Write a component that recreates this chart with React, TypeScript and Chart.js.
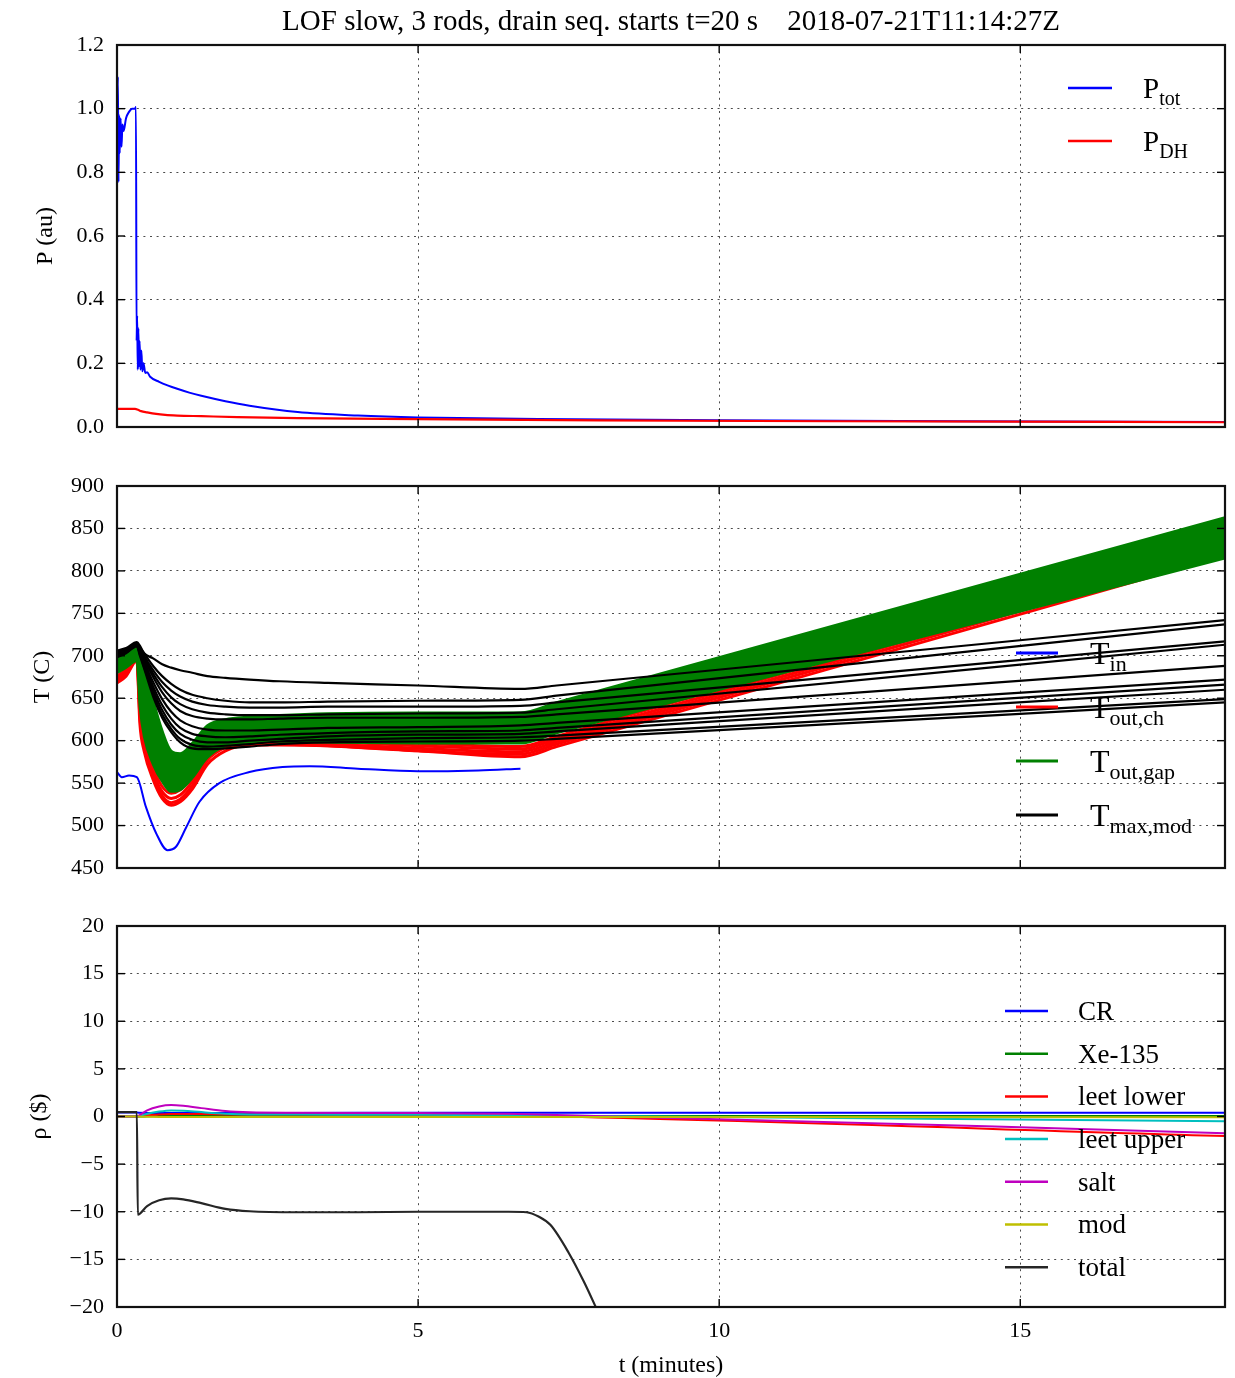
import React, { useEffect, useRef } from "react";
import { Chart, registerables } from "chart.js";

Chart.register(...registerables);

const FONT = "'Liberation Serif', 'Times New Roman', serif";
const TITLE = "LOF slow, 3 rods, drain seq. starts t=20 s    2018-07-21T11:14:27Z";

// ---------- axes ----------
const xTickValues = [0, 5, 10, 15];
const xMax = 18.4;
const pTickValues = [0, 0.2, 0.4, 0.6, 0.8, 1.0, 1.2];
const tTickValues = [450, 500, 550, 600, 650, 700, 750, 800, 850, 900];
const rhoTickValues = [-20, -15, -10, -5, 0, 5, 10, 15, 20];

// ---------- panel 1: power ----------
const tPtot = [0, 0.015, 0.025, 0.035, 0.045, 0.06, 0.075, 0.09, 0.11, 0.15, 0.2, 0.25, 0.3, 0.315, 0.325, 0.335, 0.345, 0.355, 0.365, 0.375, 0.39, 0.405, 0.42, 0.44, 0.47, 0.5, 0.55, 0.7, 0.85, 1.0, 1.2, 1.4, 1.8, 2.2, 3.0, 4.0, 5.0, 7.0, 10, 14, 18.4];
const pTot = [0.95, 1.1, 0.77, 0.98, 0.86, 0.97, 0.88, 0.95, 0.93, 0.97, 0.99, 1.0, 1.0, 1.005, 0.27, 0.35, 0.18, 0.31, 0.19, 0.27, 0.18, 0.24, 0.175, 0.2, 0.17, 0.172, 0.158, 0.142, 0.13, 0.12, 0.108, 0.098, 0.081, 0.067, 0.047, 0.036, 0.03, 0.025, 0.021, 0.018, 0.016];
const tPdh = [0, 0.3, 0.35, 0.4, 0.5, 0.65, 0.8, 1.0, 1.4, 2.0, 3.0, 5.0, 8.0, 12, 18.4];
const pDH = [0.057, 0.057, 0.054, 0.05, 0.046, 0.041, 0.038, 0.036, 0.034, 0.031, 0.028, 0.025, 0.021, 0.018, 0.015];

// ---------- panel 2: temperatures ----------
const tIn = [0, 0.08, 0.2, 0.33, 0.48, 0.65, 0.84, 0.98, 1.15, 1.37, 1.7, 2.2, 2.75, 3.2, 4, 5, 6, 6.7];
const TIn = [563, 557, 559, 557, 522, 491, 471, 475, 498, 528, 550, 563, 569, 570, 567, 564, 565, 567];

const tOut = [0, 0.15, 0.33, 0.38, 0.45, 0.6, 0.75, 0.9, 1.05, 1.25, 1.5, 1.8, 2.2, 2.7, 3.5, 5, 6.7, 7.3, 18.4];
const TOutCh = [
  [676, 684, 702, 650, 612, 575, 553, 545, 549, 564, 592, 604, 606, 605, 602, 597, 593, 605, 835],
  [674, 682, 700, 643, 606, 568, 546, 538, 542, 558, 587, 600, 603, 602, 599, 594, 590, 602, 830],
  [672, 680, 698, 636, 600, 562, 540, 532, 536, 552, 582, 596, 600, 599, 596, 591, 587, 599, 826],
  [670, 678, 696, 628, 594, 558, 535, 527, 531, 547, 577, 592, 597, 596, 594, 588, 584, 596, 822],
  [668, 676, 694, 620, 588, 554, 532, 524, 528, 543, 572, 588, 595, 595, 594, 588, 581, 593, 818],
];
const TOutGap = [
  [698, 703, 709, 704, 690, 648, 612, 588, 585, 597, 618, 625, 628, 630, 632, 633, 633, 645, 863],
  [697, 702, 708, 700, 683, 641, 606, 583, 580, 593, 614, 622, 625, 627, 629, 629, 629, 641, 858],
  [695, 700, 707, 695, 675, 634, 600, 578, 575, 589, 610, 619, 622, 624, 626, 626, 626, 638, 852],
  [693, 698, 705, 690, 666, 627, 594, 573, 570, 585, 606, 615, 619, 621, 622, 622, 622, 634, 848],
  [691, 696, 704, 684, 656, 620, 588, 568, 565, 580, 602, 612, 616, 618, 619, 618, 618, 630, 843],
  [689, 694, 702, 677, 646, 612, 582, 563, 560, 576, 598, 609, 613, 614, 615, 614, 614, 626, 838],
  [687, 692, 700, 670, 636, 603, 576, 558, 556, 572, 594, 605, 609, 610, 611, 610, 610, 622, 833],
  [685, 690, 698, 662, 626, 594, 569, 552, 551, 567, 590, 601, 605, 606, 606, 605, 605, 617, 828],
  [683, 688, 696, 652, 615, 584, 562, 546, 547, 562, 585, 598, 601, 602, 602, 601, 601, 613, 822],
  [680, 686, 694, 640, 605, 572, 552, 540, 542, 556, 580, 594, 598, 599, 598, 597, 597, 609, 815],
];
const TMaxMod = [
  [706, 709, 716, 712, 703, 697, 690, 686, 683, 680, 676, 674, 672, 670, 668, 665, 661, 665, 742],
  [704, 708, 715, 710, 703, 688, 676, 667, 660, 654, 650, 647, 645, 645, 646, 647, 648, 653, 737],
  [703, 707, 715, 709, 700, 683, 669, 659, 652, 646, 642, 640, 639, 639, 640, 640, 641, 645, 717],
  [702, 706, 714, 708, 698, 679, 663, 651, 643, 637, 633, 631, 630, 630, 631, 632, 633, 637, 713],
  [702, 706, 714, 707, 696, 675, 657, 644, 635, 629, 626, 625, 625, 626, 627, 627, 628, 631, 688],
  [701, 705, 713, 705, 693, 669, 649, 634, 624, 617, 613, 612, 612, 613, 615, 616, 618, 621, 672],
  [700, 705, 713, 704, 691, 664, 642, 626, 615, 608, 605, 604, 605, 607, 609, 611, 612, 615, 666],
  [700, 704, 712, 703, 689, 660, 636, 619, 608, 601, 598, 598, 600, 602, 605, 607, 608, 611, 660],
  [699, 704, 712, 702, 687, 656, 631, 614, 602, 595, 593, 594, 596, 599, 601, 603, 604, 606, 649],
  [698, 703, 711, 700, 685, 652, 627, 610, 598, 591, 590, 591, 593, 596, 598, 599, 600, 602, 645],
];

// ---------- panel 3: reactivity ----------
const tRho = [0, 0.3, 0.36, 0.5, 0.7, 0.9, 1.1, 1.4, 1.8, 2.2, 3, 5, 6.5, 18.4];
const rhoCR = [0.42, 0.42, 0.4, 0.38, 0.37, 0.37, 0.37, 0.38, 0.38, 0.38, 0.38, 0.39, 0.39, 0.4];
const rhoXe = [0, 0, 0, 0.02, 0.04, 0.06, 0.07, 0.07, 0.07, 0.06, 0.06, 0.05, 0.05, 0.04];
const rhoLeetLower = [0, 0, 0.02, 0.12, 0.2, 0.25, 0.26, 0.25, 0.22, 0.2, 0.2, 0.17, 0.1, -2.05];
const rhoLeetUpper = [0, 0, 0.04, 0.28, 0.52, 0.64, 0.6, 0.46, 0.3, 0.22, 0.2, 0.18, 0.12, -0.5];
const rhoSalt = [0, 0, 0.1, 0.65, 1.05, 1.2, 1.12, 0.88, 0.58, 0.45, 0.4, 0.36, 0.28, -1.75];
const rhoMod = [0, 0, -0.01, -0.02, -0.04, -0.05, -0.06, -0.06, -0.06, -0.06, -0.06, -0.06, -0.06, -0.07];
const tTotal = [0, 0.3, 0.33, 0.345, 0.5, 0.7, 0.9, 1.1, 1.4, 1.8, 2.2, 3, 4, 5, 6, 6.5, 6.8, 7.0, 7.2, 7.5, 7.75, 7.95, 8.2];
const rhoTotal = [0.45, 0.45, 0.45, -10.3, -9.4, -8.8, -8.6, -8.7, -9.1, -9.7, -9.95, -10.05, -10.05, -10.0, -10.0, -10.0, -10.05, -10.5, -11.4, -14.3, -17.3, -20, -23.5];

// ---------- colours ----------
const BLUE = "#0000ff";
const RED = "#ff0000";
const GREEN = "#008000";
const BLACK = "#000000";
const CYAN = "#00bfbf";
const MAGENTA = "#bf00bf";
const YELLOW = "#bfbf00";
const TOTAL = "#262626";

const W = 1235;
const H = 1378;
const PLOT_LEFT = 117;
const PLOT_RIGHT = 1225;

const pts = (xs: number[], ys: number[]) => xs.map((x, i) => ({ x, y: ys[i] }));

function lineDs(label: string, xs: number[], ys: number[], color: string, width: number, order: number, extra: any = {}) {
  return {
    label,
    data: pts(xs, ys),
    borderColor: color,
    backgroundColor: color,
    borderWidth: width,
    pointRadius: 0,
    pointHoverRadius: 0,
    fill: false,
    cubicInterpolationMode: "monotone",
    order,
    clip: 0,
    ...extra,
  };
}

const decorPlugin = {
  id: "decor",
  afterDatasetsDraw(chart: any, _args: any, opts: any) {
    const { ctx, chartArea: a, scales } = chart;
    ctx.save();
    ctx.setLineDash([]);
    ctx.strokeStyle = "#000";
    ctx.lineWidth = 1.4;
    const seg = (x1: number, y1: number, x2: number, y2: number) => {
      ctx.beginPath();
      ctx.moveTo(x1, y1);
      ctx.lineTo(x2, y2);
      ctx.stroke();
    };
    const TL = 8;
    for (const v of xTickValues) {
      const px = scales.x.getPixelForValue(v);
      seg(px, a.bottom, px, a.bottom - TL);
      seg(px, a.top, px, a.top + TL);
    }
    for (const t of scales.y.ticks) {
      const py = scales.y.getPixelForValue(t.value);
      seg(a.left, py, a.left + TL, py);
      seg(a.right, py, a.right - TL, py);
    }
    ctx.lineWidth = 2.2;
    ctx.strokeStyle = "#111";
    ctx.strokeRect(a.left, a.top, a.right - a.left, a.bottom - a.top);

    if (opts.title) {
      ctx.fillStyle = "#000";
      ctx.font = `29px ${FONT}`;
      ctx.textAlign = "center";
      ctx.textBaseline = "middle";
      ctx.fillText(opts.title, (a.left + a.right) / 2, 22);
    }

    const L = opts.legend;
    if (L) {
      L.items.forEach((it: any, i: number) => {
        const y = a.top + L.y0 + i * L.dy;
        ctx.strokeStyle = it.color;
        ctx.lineWidth = L.lineWidth;
        seg(a.right - L.lineX, y, a.right - L.lineX + L.lineLen, y);
        ctx.fillStyle = "#000";
        ctx.textAlign = "left";
        ctx.textBaseline = "alphabetic";
        ctx.font = `${L.size}px ${FONT}`;
        const base = y + L.size * 0.33;
        const tx = a.right - L.textX;
        ctx.fillText(it.label, tx, base);
        if (it.sub) {
          const w = ctx.measureText(it.label).width;
          ctx.font = `${L.subSize}px ${FONT}`;
          ctx.fillText(it.sub, tx + w, base + L.subSize * 0.35);
        }
      });
    }
    ctx.restore();
  },
};

const gridOpts = { color: "rgba(0,0,0,0.7)", lineWidth: 1, drawTicks: false };
const borderOpts = { display: false, dash: [2, 4.6] };

function xAxis(showLabels: boolean) {
  return {
    type: "linear",
    min: 0,
    max: xMax,
    afterBuildTicks: (s: any) => {
      s.ticks = xTickValues.map((v) => ({ value: v }));
    },
    afterFit: (s: any) => {
      s.height = showLabels ? H - 1307 : 0;
    },
    grid: gridOpts,
    border: borderOpts,
    ticks: {
      display: showLabels,
      padding: 11,
      color: "#000",
      autoSkip: false,
      maxRotation: 0,
      font: { size: 22, family: FONT },
      callback: (v: any) => String(v),
    },
    title: {
      display: showLabels,
      text: "t (minutes)",
      color: "#000",
      font: { size: 24, family: FONT },
      padding: { top: 0, bottom: -2 },
    },
  };
}

function yAxis(min: number, max: number, ticks: number[], fmt: (v: number) => string, title: string, titlePad: number) {
  return {
    type: "linear",
    min,
    max,
    afterBuildTicks: (s: any) => {
      s.ticks = ticks.map((v) => ({ value: v }));
    },
    afterFit: (s: any) => {
      s.width = PLOT_LEFT;
    },
    grid: gridOpts,
    border: borderOpts,
    ticks: {
      padding: 13,
      color: "#000",
      autoSkip: false,
      font: { size: 22, family: FONT },
      callback: (v: any) => fmt(Number(v)),
    },
    title: {
      display: true,
      text: title,
      color: "#000",
      font: { size: 24, family: FONT },
      padding: { top: titlePad, bottom: 0 },
    },
  };
}

function baseOptions(top: number, bottom: number, showX: boolean, yScale: any, decor: any) {
  return {
    responsive: false,
    animation: false,
    devicePixelRatio: 1,
    events: [],
    layout: { padding: { left: 0, right: W - PLOT_RIGHT, top, bottom } },
    plugins: {
      legend: { display: false },
      tooltip: { enabled: false },
      title: { display: false },
      decor,
    },
    scales: { x: xAxis(showX), y: yScale },
  };
}

export default function App() {
  const c1 = useRef<HTMLCanvasElement>(null);
  const c2 = useRef<HTMLCanvasElement>(null);
  const c3 = useRef<HTMLCanvasElement>(null);

  useEffect(() => {
    const charts: Chart[] = [];

    // Panel 1
    charts.push(
      new Chart(c1.current as HTMLCanvasElement, {
        type: "line",
        data: {
          datasets: [
            lineDs("P_tot", tPtot, pTot, BLUE, 2, 2),
            lineDs("P_DH", tPdh, pDH, RED, 2.2, 1),
          ],
        },
        options: baseOptions(
          45,
          H - 427,
          false,
          yAxis(0, 1.2, pTickValues, (v) => v.toFixed(1), "P (au)", 31),
          {
            title: TITLE,
            legend: {
              items: [
                { label: "P", sub: "tot", color: BLUE },
                { label: "P", sub: "DH", color: RED },
              ],
              lineX: 157, lineLen: 44, textX: 82, y0: 43, dy: 53, size: 29, subSize: 20, lineWidth: 2.5,
            },
          }
        ) as any,
        plugins: [decorPlugin],
      } as any)
    );

    // Panel 2
    const ds2: any[] = [];
    ds2.push(lineDs("T_in", tIn, TIn, BLUE, 2, 4));
    TOutCh.forEach((ys, i) => ds2.push(lineDs(`T_out,ch ${i + 1}`, tOut, ys, RED, 3, 3)));
    const gapStart = ds2.length;
    TOutGap.forEach((ys, i) => {
      const last = i === TOutGap.length - 1;
      ds2.push(
        lineDs(`T_out,gap ${i + 1}`, tOut, ys, GREEN, 2.5, 2, last ? { fill: gapStart, backgroundColor: GREEN } : {})
      );
    });
    TMaxMod.forEach((ys, i) => ds2.push(lineDs(`T_max,mod ${i + 1}`, tOut, ys, BLACK, 2.2, 1)));

    charts.push(
      new Chart(c2.current as HTMLCanvasElement, {
        type: "line",
        data: { datasets: ds2 },
        options: baseOptions(
          486,
          H - 868,
          false,
          yAxis(450, 900, tTickValues, (v) => String(v), "T (C)", 28),
          {
            legend: {
              items: [
                { label: "T", sub: "in", color: BLUE },
                { label: "T", sub: "out,ch", color: RED },
                { label: "T", sub: "out,gap", color: GREEN },
                { label: "T", sub: "max,mod", color: BLACK },
              ],
              lineX: 209, lineLen: 42, textX: 135, y0: 167, dy: 54, size: 32, subSize: 22, lineWidth: 3,
            },
          }
        ) as any,
        plugins: [decorPlugin],
      } as any)
    );

    // Panel 3
    charts.push(
      new Chart(c3.current as HTMLCanvasElement, {
        type: "line",
        data: {
          datasets: [
            lineDs("CR", tRho, rhoCR, BLUE, 2, 7),
            lineDs("Xe-135", tRho, rhoXe, GREEN, 2, 6),
            lineDs("leet lower", tRho, rhoLeetLower, RED, 2, 5),
            lineDs("leet upper", tRho, rhoLeetUpper, CYAN, 2, 4),
            lineDs("salt", tRho, rhoSalt, MAGENTA, 2, 3),
            lineDs("mod", tRho, rhoMod, YELLOW, 2, 2),
            lineDs("total", tTotal, rhoTotal, TOTAL, 2.2, 1),
          ],
        },
        options: baseOptions(
          926,
          0,
          true,
          yAxis(-20, 20, rhoTickValues, (v) => (v < 0 ? "\u2212" + Math.abs(v) : String(v)), "\u03c1 ($)", 25),
          {
            legend: {
              items: [
                { label: "CR", color: BLUE },
                { label: "Xe-135", color: GREEN },
                { label: "leet lower", color: RED },
                { label: "leet upper", color: CYAN },
                { label: "salt", color: MAGENTA },
                { label: "mod", color: YELLOW },
                { label: "total", color: TOTAL },
              ],
              lineX: 220, lineLen: 43, textX: 147, y0: 85, dy: 42.7, size: 27, subSize: 18, lineWidth: 2.5,
            },
          }
        ) as any,
        plugins: [decorPlugin],
      } as any)
    );

    return () => charts.forEach((c) => c.destroy());
  }, []);

  const cs = { position: "absolute" as const, left: 0, top: 0, width: W, height: H };
  return (
    <div style={{ position: "absolute", left: 0, top: 0, width: W, height: H, background: "#fff" }}>
      <canvas ref={c1} width={W} height={H} style={cs} />
      <canvas ref={c2} width={W} height={H} style={cs} />
      <canvas ref={c3} width={W} height={H} style={cs} />
    </div>
  );
}
